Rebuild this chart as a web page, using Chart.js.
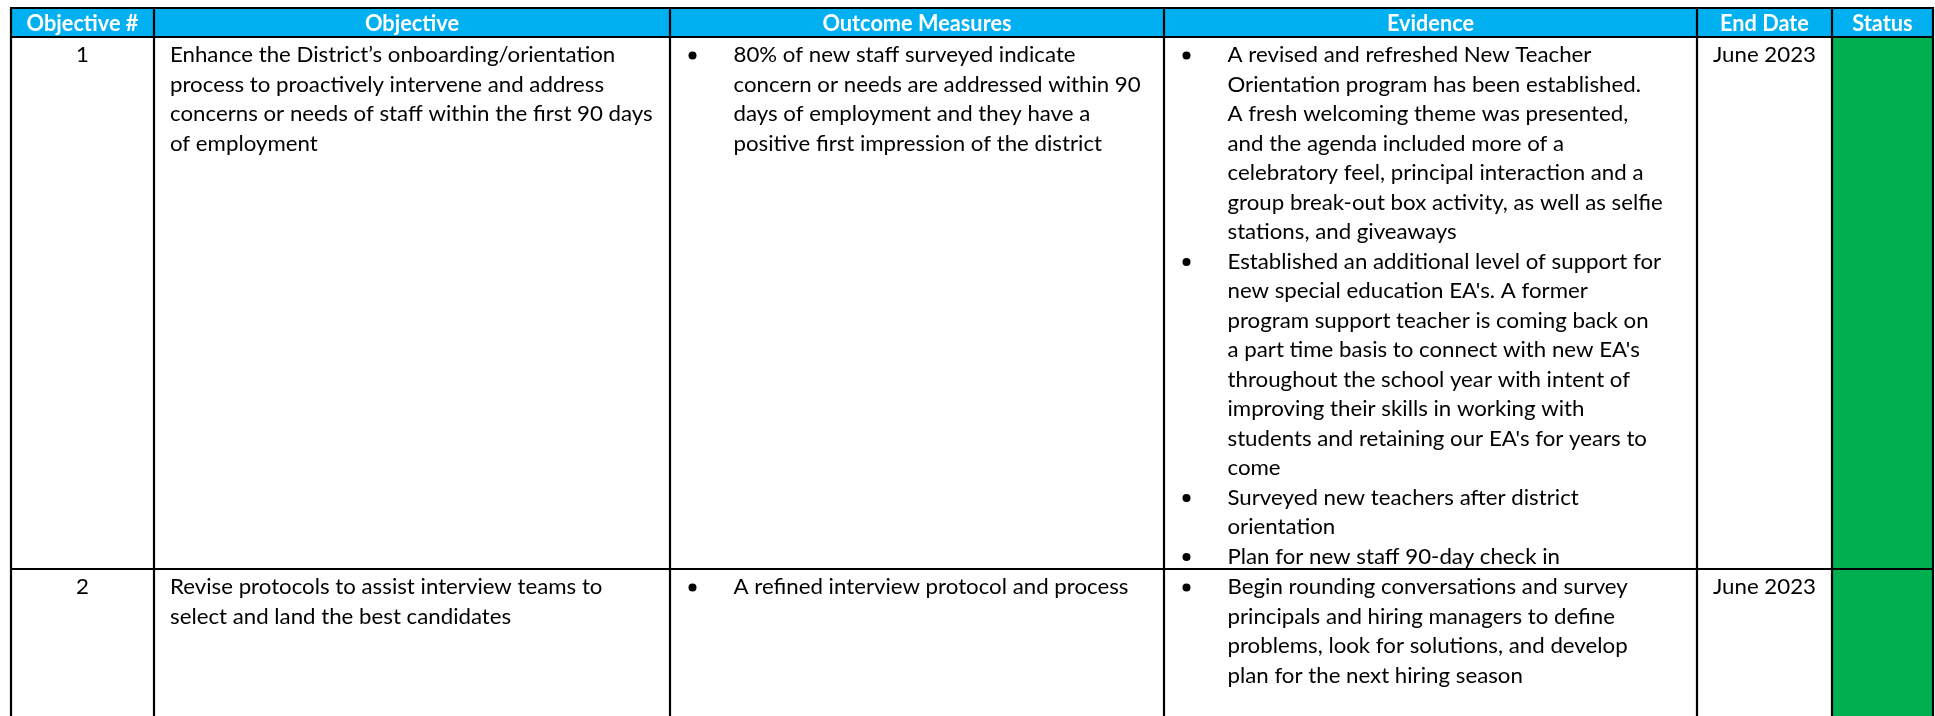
<!DOCTYPE html>
<html><head><meta charset="utf-8">
<script src="https://cdn.jsdelivr.net/npm/chart.js@4.4.0/dist/chart.umd.min.js"></script>
<style>html,body{margin:0;padding:0;background:#fff;overflow:hidden}canvas{display:block}</style>
</head><body>
<canvas id="c" width="1935" height="716"></canvas>
<script>
// ---- data ----
const headers = ['Objective #', 'Objective', 'Outcome Measures', 'Evidence', 'End Date', 'Status'];
const objectiveNumbers = ['1', '2'];
const objectives = [
  ['Enhance the District’s onboarding/orientation', 'process to proactively intervene and address', 'concerns or needs of staff within the first 90 days', 'of employment'],
  ['Revise protocols to assist interview teams to', 'select and land the best candidates']
];
const outcomeMeasures = [
  [['80% of new staff surveyed indicate', 'concern or needs are addressed within 90', 'days of employment and they have a', 'positive first impression of the district']],
  [['A refined interview protocol and process']]
];
const evidence = [
  [
    ['A revised and refreshed New Teacher', 'Orientation program has been established.', 'A fresh welcoming theme was presented,', 'and the agenda included more of a', 'celebratory feel, principal interaction and a', 'group break-out box activity, as well as selfie', 'stations, and giveaways'],
    ['Established an additional level of support for', "new special education EA's. A former", 'program support teacher is coming back on', "a part time basis to connect with new EA's", 'throughout the school year with intent of', 'improving their skills in working with', "students and retaining our EA's for years to", 'come'],
    ['Surveyed new teachers after district', 'orientation'],
    ['Plan for new staff 90-day check in']
  ],
  [
    ['Begin rounding conversations and survey', 'principals and hiring managers to define', 'problems, look for solutions, and develop', 'plan for the next hiring season']
  ]
];
const endDates = ['June 2023', 'June 2023'];
const statuses = ['On track', 'On track'];

// ---- styles / layout ----
const statusColors = { 'On track': '#00B050' };
const headerColor = '#00B0F0';
const colEdges = [11, 154, 670, 1164, 1697, 1832, 1933];
const tableTop = 8, headerH = 29, lineH = 29.5, firstBase = 25, bottomPad = 5.5;

const tablePlugin = {
  id: 'tablePlugin',
  afterDraw(chart) {
    const ctx = chart.ctx;
    const sx = chart.scales.x, sy = chart.scales.y;
    const X = v => sx.getPixelForValue(v);
    const Y = v => sy.getPixelForValue(v);
    const bodyFont = '22px Lato';
    const boldFont = 'bold 22px Lato';
    ctx.save();
    ctx.font = bodyFont;
    const kBody = 1.01 * (446 / ctx.measureText('Enhance the District’s onboarding/orientation').width +
                   419 / ctx.measureText('celebratory feel, principal interaction and a').width +
                   99 / ctx.measureText('June 2023').width) / 3;
    ctx.font = boldFont;
    const kBold = (193 / ctx.measureText('Outcome Measures').width +
                   110 / ctx.measureText('Objective #').width +
                   87 / ctx.measureText('Evidence').width) / 3;
    function txt(t, x, y, align, bold) {
      ctx.save();
      ctx.font = bold ? boldFont : bodyFont;
      ctx.textAlign = align;
      ctx.textBaseline = 'alphabetic';
      ctx.translate(X(x), Y(y));
      ctx.scale(bold ? kBold : kBody, 1);
      ctx.fillText(t, 0, 0);
      ctx.restore();
    }
    // row geometry from content
    const rows = objectiveNumbers.map((n, i) => {
      const nObj = objectives[i].length;
      const nOut = outcomeMeasures[i].reduce((a, b) => a + b.length, 0);
      const nEv = evidence[i].reduce((a, b) => a + b.length, 0);
      return Math.max(nObj, nOut, nEv, 1);
    });
    const rowTops = [];
    let y = tableTop + headerH;
    rows.forEach((n, i) => {
      rowTops.push(y);
      y += firstBase + (n - 1) * lineH + bottomPad;
    });
    const yEnd = sy.max + 20;
    const rowBottom = i => (i === rows.length - 1 ? yEnd : rowTops[i + 1]);

    // fills
    ctx.fillStyle = headerColor;
    ctx.fillRect(X(colEdges[0]), Y(tableTop), X(colEdges[6]) - X(colEdges[0]), Y(tableTop + headerH) - Y(tableTop));
    rows.forEach((n, i) => {
      ctx.fillStyle = statusColors[statuses[i]] || '#fff';
      ctx.fillRect(X(colEdges[5]), Y(rowTops[i]), X(colEdges[6]) - X(colEdges[5]), Y(rowBottom(i)) - Y(rowTops[i]));
    });

    // header texts
    ctx.fillStyle = '#ffffff';
    headers.forEach((h, c) => txt(h, (colEdges[c] + colEdges[c + 1]) / 2, tableTop + 23, 'center', true));

    // body texts
    ctx.fillStyle = '#000000';
    rows.forEach((n, i) => {
      const b0 = rowTops[i] + firstBase;
      txt(objectiveNumbers[i], (colEdges[0] + colEdges[1]) / 2, b0, 'center', false);
      objectives[i].forEach((l, k) => txt(l, colEdges[1] + 16, b0 + k * lineH, 'left', false));
      const bullets = (groups, col) => {
        let k = 0;
        groups.forEach(g => {
          ctx.beginPath();
          ctx.arc(X(colEdges[col] + 22.5), Y(b0 + k * lineH - 6.5), 4, 0, Math.PI * 2);
          ctx.fill();
          g.forEach(l => { txt(l, colEdges[col] + 63.5, b0 + k * lineH, 'left', false); k++; });
        });
      };
      bullets(outcomeMeasures[i], 2);
      bullets(evidence[i], 3);
      txt(endDates[i], (colEdges[4] + colEdges[5]) / 2, b0, 'center', false);
    });

    // borders
    ctx.strokeStyle = '#000';
    ctx.lineWidth = 2.2;
    ctx.beginPath();
    [tableTop, tableTop + headerH, ...rowTops.slice(1)].forEach(v => {
      ctx.moveTo(X(colEdges[0]) - 1, Y(v)); ctx.lineTo(X(colEdges[6]) + 1, Y(v));
    });
    colEdges.forEach(e => { ctx.moveTo(X(e), Y(tableTop) - 1); ctx.lineTo(X(e), Y(yEnd)); });
    ctx.stroke();
    ctx.restore();
  }
};

function build() {
  new Chart(document.getElementById('c'), {
    type: 'scatter',
    data: { datasets: [{ data: [], showLine: false }] },
    options: {
      responsive: false,
      animation: false,
      devicePixelRatio: 1,
      layout: { padding: 0 },
      plugins: { legend: { display: false }, tooltip: { enabled: false } },
      scales: {
        x: { type: 'linear', min: 0, max: 1935, display: false },
        y: { type: 'linear', min: 0, max: 716, reverse: true, display: false }
      }
    },
    plugins: [tablePlugin]
  });
}
(document.fonts && document.fonts.load ? Promise.all([document.fonts.load('22px Lato'), document.fonts.load('bold 22px Lato')]) : Promise.resolve()).then(build, build);
</script>
</body></html>
